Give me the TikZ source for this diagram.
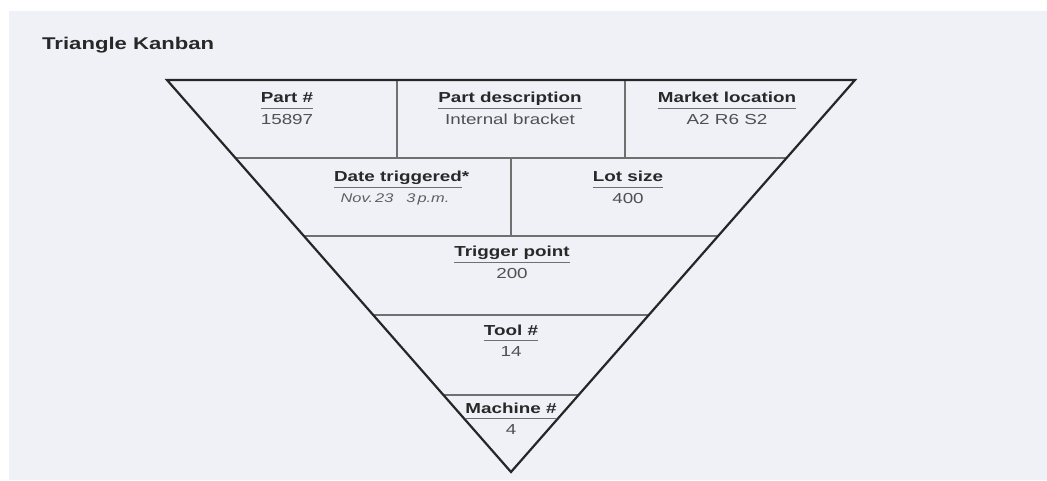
\documentclass[tikz,border=0pt]{standalone}
\usepackage{fontspec}
\setmainfont{Liberation Sans}[FakeStretch=1.3]
\usetikzlibrary{calc}

\definecolor{paper}{RGB}{239,241,247}
\definecolor{ink}{RGB}{40,40,40}
\definecolor{outline}{RGB}{38,38,38}
\definecolor{divider}{RGB}{112,112,112}
\definecolor{valuegrey}{RGB}{80,80,80}
\definecolor{handgrey}{RGB}{95,95,95}

% one card field: bold caption, rule under it, entry below
\newcommand\kanbanfield[5]{%
  \node[field] (#1) at (#2,#3) {#4};
  \draw[uline] ($(#1.base west)+(0,5.5)$) -- ($(#1.base east)+(0,5.5)$);
  \node[entry] (#1-v) at (#2,#3+21.5) {#5};
}

\begin{document}
\begin{tikzpicture}[x=1pt,y=-1pt,
  title/.style={font=\fontsize{17}{20}\selectfont\bfseries, text=ink, inner sep=0pt, anchor=base west},
  field/.style={font=\fontsize{14.5}{16}\selectfont\bfseries, text=ink, inner sep=0pt, anchor=base},
  entry/.style={font=\fontsize{14.5}{16}\selectfont, text=valuegrey, inner sep=0pt, anchor=base},
  hand/.style={font=\fontsize{12.6}{14}\selectfont\itshape, text=handgrey, inner sep=0pt, anchor=base},
  uline/.style={draw=divider, line width=1.1pt},
  inner/.style={draw=divider, line width=1.3pt},
  outer/.style={draw=outline, line width=2.2pt, line join=miter},
]
\useasboundingbox (0,0) rectangle (1047,481);
\fill[white] (0,0) rectangle (1047,481);
\fill[paper] (9,11) rectangle (1047,480);

\node[title] (title) at (42,50) {Triangle Kanban};

% the inverted triangle card
\coordinate (A) at (167,80);
\coordinate (B) at (855,80);
\coordinate (C) at (511,472);

% horizontal row dividers, ending on the slanted sides
\foreach \n/\yy in {1/158,2/236,3/315,4/395} {
  \coordinate (L\n) at ($(A)!{(\yy-80)/392}!(C)$);
  \coordinate (R\n) at ($(B)!{(\yy-80)/392}!(C)$);
  \draw[inner] (L\n) -- (R\n);
}

% vertical dividers
\coordinate (v1t) at (397,80);  \coordinate (v1b) at (397,158);
\coordinate (v2t) at (625,80);  \coordinate (v2b) at (625,158);
\coordinate (v3t) at (511,158); \coordinate (v3b) at (511,236);
\draw[inner] (v1t) -- (v1b);
\draw[inner] (v2t) -- (v2b);
\draw[inner] (v3t) -- (v3b);

\draw[outer] (A) -- (B) -- (C) -- cycle;

% fields
\kanbanfield{part}{287}{103}{Part \#}{15897}
\kanbanfield{desc}{510}{103}{Part description}{Internal bracket}
\kanbanfield{market}{727}{103}{Market location}{A2 R6 S2}

\node[field] (date) at (398,182) {Date triggered\rlap{*}};
\draw[uline] ($(date.base west)+(0,5.5)$) -- ($(date.base east)+(0,5.5)$);
\node[hand] (date-v) at (395,203) {Nov.\,23\enspace\, 3\,p.m.};

\kanbanfield{lot}{628}{182}{Lot size}{400}
\kanbanfield{trigger}{512}{257}{Trigger point}{200}
\kanbanfield{tool}{511}{335}{Tool \#}{14}
\kanbanfield{machine}{511}{413}{Machine \#}{4}
\end{tikzpicture}
\end{document}
